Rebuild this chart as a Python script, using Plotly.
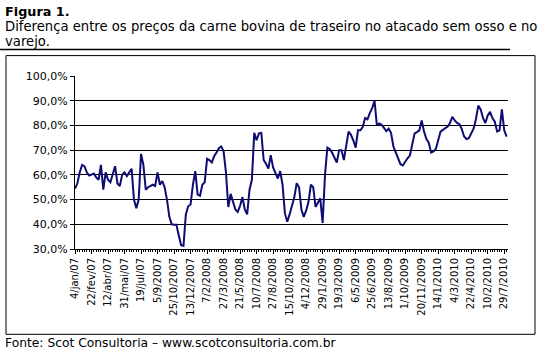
import plotly.graph_objects as go

# Tick labels (one every 7 weekly samples)
tick_labels = ["4/jan/07", "22/fev/07", "12/abr/07", "31/mai/07", "19/jul/07", "5/9/2007",
               "25/10/2007", "13/12/2007", "7/2/2008", "27/3/2008", "21/5/2008", "10/7/2008",
               "27/8/2008", "15/10/2008", "4/12/2008", "29/1/2009", "19/3/2009", "6/5/2009",
               "25/6/2009", "13/8/2009", "1/10/2009", "20/11/2009", "14/1/2010", "4/3/2010",
               "22/4/2010", "10/2/2010", "29/7/2010"]

# Price difference (%), weekly samples
diff_pct = [
    54.5, 56.5, 61, 64, 63.5, 61, 59.7, 60, 60.5, 59,
    58, 64, 54, 61, 58, 57, 60, 63.5, 56.5, 55.5,
    60, 61, 59.5, 61, 62.5, 50, 46.5, 50, 68.5, 64,
    54, 55, 55.5, 56, 55.5, 61, 56, 57.5, 55, 50,
    43, 40, 39.8, 39.8, 35.5, 31.5, 31.2, 44, 47.3, 48,
    56, 61.5, 52, 51.5, 56, 57, 66.5, 66, 65, 67.5,
    69, 70.8, 71.5, 69.5, 61, 47, 52.3, 49.5, 46, 45,
    47.5, 51, 46, 44, 54, 58, 77, 74, 76.8, 77,
    66, 64.5, 62.5, 68, 63, 60.7, 58.5, 61.5, 56, 44.5,
    41, 44, 48, 51, 56.6, 55, 46, 43, 45.5, 49,
    56, 55, 47, 48.5, 50.5, 40.5, 60, 71, 70.5, 69,
    67, 65, 70, 70, 66, 71, 77.5, 76.2, 74, 71,
    78, 78, 79.3, 83, 82.5, 85, 87, 90, 80, 80.8,
    80.3, 79, 77.7, 78.7, 77, 71.5, 69, 67, 64.3, 63.8,
    65.5, 66.7, 67.8, 72, 76.8, 77.3, 78, 82, 77.5, 74.5,
    73, 69, 69.5, 70.5, 74, 77.5, 78.2, 78.8, 79.5, 81,
    83.5, 82, 81, 80.5, 78.5, 75.5, 74.5, 74.8, 77, 78.7,
    82.5, 88, 86.5, 83, 81, 84, 85.5, 83, 81.5, 77.5,
    78, 86.5, 78, 75.5,
]

y_ticks = [30, 40, 50, 60, 70, 80, 90, 100]
y_tick_text = ["30,0%", "40,0%", "50,0%", "60,0%", "70,0%", "80,0%", "90,0%", "100,0%"]

W, H = 548, 359
L, R, T, B = 75, 508, 75.5, 249.3
pw, ph = R - L, B - T

def px(x):
    return (x - L) / pw

def py(y):
    return (B - y) / ph

idx = list(range(len(diff_pct)))
tick_pos = [i * 7 for i in range(len(tick_labels))]

fig = go.Figure()
fig.add_trace(go.Scatter(x=idx, y=diff_pct, mode="lines",
                         line=dict(color="#0c0c72", width=2), hoverinfo="skip"))

font = "DejaVu Sans, Verdana, sans-serif"
fig.update_layout(
    width=W, height=H,
    margin=dict(l=L, r=W - R, t=T, b=H - B, pad=0),
    paper_bgcolor="white", plot_bgcolor="white",
    showlegend=False,
    font=dict(family=font, color="black", size=10),
    xaxis=dict(range=[0, len(diff_pct) - 1 + 0.6], tickvals=tick_pos, ticktext=tick_labels,
               tickangle=-90, showgrid=False, zeroline=False, showline=True,
               linecolor="black", linewidth=1, ticks="outside", ticklen=4,
               tickcolor="black", tickfont=dict(size=10, family=font),
               minor=dict(dtick=1, tick0=0, ticks="outside", ticklen=2, tickcolor="black")),
    yaxis=dict(range=[30, 100], tickvals=y_ticks, ticktext=y_tick_text,
               showgrid=True, gridcolor="black", gridwidth=1, zeroline=False,
               showline=True, linecolor="black", linewidth=1, ticks="outside",
               ticklen=4, tickcolor="black", tickfont=dict(size=11, family=font)),
)

# Outer chart border
fig.add_shape(type="rect", xref="paper", yref="paper",
              x0=px(6), x1=px(535), y0=py(335), y1=py(55),
              line=dict(color="black", width=1), fillcolor="rgba(0,0,0,0)", layer="below")
# Title underline
fig.add_shape(type="line", xref="paper", yref="paper",
              x0=px(0), x1=px(510), y0=py(49), y1=py(49),
              line=dict(color="black", width=1.5))

fig.add_annotation(text="<b>Figura 1.</b>", xref="paper", yref="paper",
                   x=px(3), y=py(1), xanchor="left", yanchor="top", showarrow=False,
                   font=dict(size=12.8, family=font))
fig.add_annotation(text="Diferença entre os preços da carne bovina de traseiro no atacado sem osso e no",
                   xref="paper", yref="paper", x=px(3), y=py(16), xanchor="left", yanchor="top",
                   showarrow=False, font=dict(size=13.2, family=font))
fig.add_annotation(text="varejo.",
                   xref="paper", yref="paper", x=px(3), y=py(31), xanchor="left", yanchor="top",
                   showarrow=False, font=dict(size=13.2, family=font))
fig.add_annotation(text="Fonte: Scot Consultoria – www.scotconsultoria.com.br",
                   xref="paper", yref="paper", x=px(3), y=py(335), xanchor="left", yanchor="top",
                   showarrow=False, font=dict(size=12.3, family=font))

fig.write_html("out.html", config={"displayModeBar": False},
               post_script="document.body.style.margin='0';")
